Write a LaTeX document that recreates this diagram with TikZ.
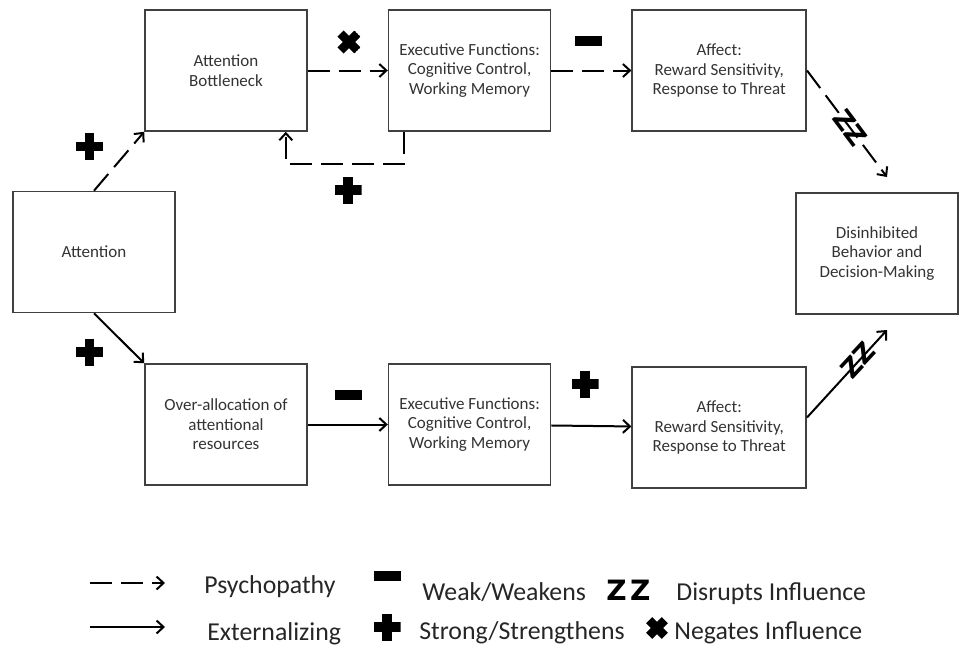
\documentclass[tikz,border=0pt]{standalone}
\usepackage{fontspec}
\setmainfont{Carlito}
\newfontfamily\zzfont[LetterSpace=12]{DejaVu Sans}
\newfontfamily\zzlinefont{DejaVu Sans}
\usetikzlibrary{positioning,arrows.meta}

\begin{document}
\begin{tikzpicture}[x=0.5pt, y=0.5pt,
  box/.style={rectangle, draw=black!75, line width=0.8pt, minimum width=81pt, minimum height=60.5pt, align=center, inner sep=2pt, text=black!80, font=\fontsize{8.5}{9.8}\selectfont},
  widebox/.style={box, minimum width=87pt},
  link/.style={line width=1pt, -{Straight Barb[length=3.5pt, width=6.5pt]}},
  psy/.style={link, dash pattern=on 11pt off 4.5pt},
  ext/.style={link},
  minussign/.style={fill=black, minimum width=13.5pt, minimum height=5pt, inner sep=0pt},
  plussign/.style={minimum size=13.5pt, inner sep=0pt, path picture={
    \fill[black] ([shift={(-6.75pt,-2.3pt)}]path picture bounding box.center) rectangle ++(13.5pt,4.6pt);
    \fill[black] ([shift={(-2.3pt,-6.75pt)}]path picture bounding box.center) rectangle ++(4.6pt,13.5pt);}},
  crosssign/.style={minimum size=12pt, inner sep=0pt, rotate=45, path picture={
    \fill[black] ([shift={(-6pt,-2.2pt)}]path picture bounding box.center) rectangle ++(12pt,4.4pt);
    \fill[black] ([shift={(-2.2pt,-6pt)}]path picture bounding box.center) rectangle ++(4.4pt,12pt);}},
  zzsign/.style={font=\zzlinefont\bfseries\fontsize{13}{13}\selectfont, inner sep=0pt},
  legtext/.style={font=\fontsize{12.9}{14}\selectfont, text=black!85, inner sep=0pt}]
\useasboundingbox (0,0) rectangle (959,-645);

% boxes
\node[box] (att) at (94,-252) {Attention};
\node[box] (bott) at (226,-70.5) {Attention\\Bottleneck};
\node[box, right=40pt of bott] (exec1) {Executive Functions:\\Cognitive Control,\\Working Memory};
\node[widebox, right=40pt of exec1] (aff1) {Affect:\\Reward Sensitivity,\\Response to Threat};
\node[box] (over) at (226,-424.5) {Over-allocation of\\attentional\\resources};
\node[box, right=40pt of over] (exec2) {Executive Functions:\\Cognitive Control,\\Working Memory};
\node[widebox, right=40pt of exec2, yshift=-1.5pt] (aff2) {Affect:\\Reward Sensitivity,\\Response to Threat};
\node[box] (dis) at (877,-253.5) {Disinhibited\\Behavior and\\Decision-Making};
\coordinate (zzinA) at (887,-177);
\coordinate (zzinB) at (887,-330);

% links
\draw[psy] (att.north) -- (bott.south west);
\draw[ext] (att.south) -- (over.north west);
\draw[psy] (bott) -- (exec1);
\draw[psy] (exec1) -- (aff1);
\draw[psy] (aff1.east) -- (zzinA);
\draw[psy] ([xshift=8pt]exec1.south west) -- ++(0pt,-16pt) -| ([xshift=-11pt]bott.south east);
\draw[ext] (over) -- (exec2);
\draw[ext] (exec2) -- (aff2);
\draw[ext] ([yshift=5pt]aff2.east) -- (zzinB);

% signs
\node[plussign] (pA) at (89.5,-146.5) {};
\node[plussign] (pB) at (89.5,-352) {};
\node[crosssign] (xA) at (349,-42) {};
\node[minussign] (mA) at (588,-41) {};
\node[plussign] (pC) at (348,-190) {};
\node[minussign] (mB) at (348,-395) {};
\node[plussign] (pD) at (585,-384) {};
\node[zzsign, rotate=-53] (zA) at (850,-128) {ZZ};
\node[zzsign, rotate=47] (zB) at (858,-360) {ZZ};

% legend
\coordinate (lgpsyA) at (90,-583);
\coordinate (lgpsyB) at (165,-583);
\coordinate (lgextA) at (90,-627);
\coordinate (lgextB) at (165,-627);
\draw[psy] (lgpsyA) -- (lgpsyB);
\draw[ext] (lgextA) -- (lgextB);
\node[legtext, anchor=base west] (lgpsy) at (204,-593) {Psychopathy};
\node[minussign] (lgminus) at (387,-576) {};
\node[legtext, anchor=base west] (lgweak) at (422,-600) {Weak/Weakens};
\node[zzsign, anchor=base west, font=\zzfont\bfseries\fontsize{14}{14}\selectfont] (lgzz) at (606,-600) {ZZ};
\node[legtext, anchor=base west] (lgdis) at (676,-600) {Disrupts Influence};
\node[legtext, anchor=base west] (lgext) at (207,-640) {Externalizing};
\node[plussign] (lgplus) at (387,-627) {};
\node[legtext, anchor=base west] (lgstr) at (419,-639) {Strong/Strengthens};
\node[crosssign, minimum size=11pt] (lgcross) at (657,-628) {};
\node[legtext, anchor=base west] (lgneg) at (674,-639) {Negates Influence};
\end{tikzpicture}
\end{document}
